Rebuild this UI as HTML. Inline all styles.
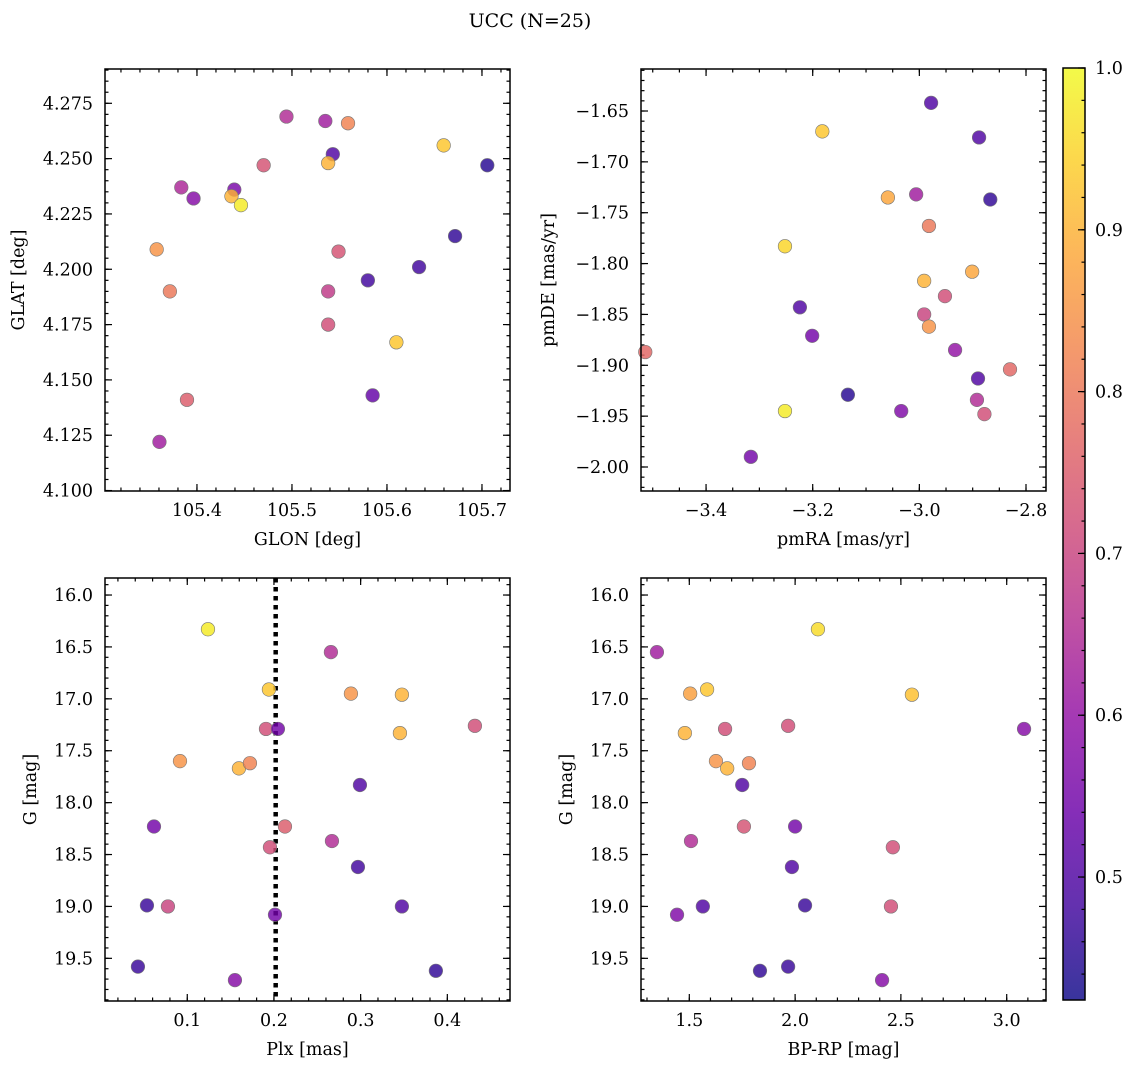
<!DOCTYPE html>
<html><head><meta charset="utf-8"><style>
html,body{margin:0;padding:0;background:#fff;}
svg{display:block;font-family:"DejaVu Serif","Liberation Serif",serif;}
</style></head><body>
<svg id="fig" width="1136" height="1068" viewBox="0 0 1136 1068" xmlns="http://www.w3.org/2000/svg">
<text x="530" y="27" font-size="19" text-anchor="middle">UCC (N=25)</text>
</svg>
<script>
// Panel data (per panel)
const glon=[105.4942,105.5351,105.5590,105.5430,105.6597,105.7056,105.4702,105.3835,105.4393,105.3964,105.4363,105.4463,105.5381,105.3576,105.6717,105.5490,105.6338,105.5799,105.3715,105.5381,105.5381,105.6099,105.3895,105.5849,105.3605];
const glat=[4.269,4.267,4.266,4.252,4.256,4.247,4.247,4.237,4.236,4.232,4.233,4.229,4.248,4.209,4.215,4.208,4.201,4.195,4.190,4.190,4.175,4.167,4.141,4.143,4.122];
const cTL=[0.65,0.62,0.82,0.50,0.93,0.45,0.73,0.64,0.56,0.58,0.90,0.98,0.90,0.85,0.46,0.73,0.48,0.48,0.80,0.68,0.72,0.93,0.75,0.53,0.62];
const pmra=[-2.978,-3.182,-2.888,-3.006,-3.059,-2.867,-2.982,-3.252,-2.901,-2.991,-2.952,-3.224,-2.991,-2.982,-3.201,-2.933,-3.514,-2.830,-2.890,-3.134,-2.892,-3.252,-3.034,-2.878,-3.316];
const pmde=[-1.642,-1.670,-1.676,-1.732,-1.735,-1.737,-1.763,-1.783,-1.808,-1.817,-1.832,-1.843,-1.850,-1.862,-1.871,-1.885,-1.887,-1.904,-1.913,-1.929,-1.934,-1.945,-1.945,-1.948,-1.990];
const cTR=[0.50,0.93,0.50,0.62,0.88,0.46,0.80,0.95,0.88,0.90,0.72,0.50,0.70,0.85,0.55,0.60,0.77,0.77,0.50,0.45,0.65,0.98,0.57,0.72,0.55];
const plx=[0.1239,0.2657,0.1942,0.2888,0.3476,0.1908,0.2046,0.4318,0.3453,0.0916,0.1596,0.1723,0.2992,0.0616,0.2127,0.2669,0.1954,0.2969,0.0535,0.0777,0.3476,0.2012,0.0431,0.3868,0.1550];
const gA=[16.33,16.55,16.91,16.95,16.96,17.29,17.29,17.26,17.33,17.60,17.67,17.62,17.83,18.23,18.23,18.37,18.43,18.62,18.99,19.00,19.00,19.08,19.58,19.62,19.71];
const cBL=[0.98,0.65,0.93,0.85,0.90,0.72,0.55,0.72,0.90,0.85,0.90,0.82,0.50,0.55,0.75,0.65,0.72,0.48,0.47,0.70,0.50,0.55,0.47,0.46,0.58];
const bprp=[1.347,2.108,1.504,1.584,2.552,1.669,1.967,3.082,1.479,1.626,1.679,1.782,1.750,1.508,1.758,2.000,2.462,1.985,1.564,2.047,1.442,2.453,1.834,1.967,2.411];
const gB=[16.55,16.33,16.95,16.91,16.96,17.29,17.26,17.29,17.33,17.60,17.67,17.62,17.83,18.37,18.23,18.23,18.43,18.62,19.00,18.99,19.08,19.00,19.62,19.58,19.71];
const cBR=[0.62,0.96,0.87,0.93,0.92,0.72,0.72,0.58,0.90,0.85,0.90,0.82,0.50,0.65,0.73,0.55,0.72,0.50,0.50,0.47,0.57,0.72,0.46,0.47,0.58];
const cbTicks=["0.5","0.6","0.7","0.8","0.9","1.0"];

const NS="http://www.w3.org/2000/svg";
const svg=document.getElementById('fig');
function mk(tag,at,parent){const e=document.createElementNS(NS,tag);for(const k in at)e.setAttribute(k,at[k]);(parent||svg).appendChild(e);return e;}
const stops=[[13,8,135],[65,4,157],[106,0,168],[143,13,164],[177,42,144],[204,71,120],[225,100,98],[242,132,75],[252,166,54],[252,206,37],[240,249,33]];
function plasma(t){t=Math.max(0,Math.min(1,t));const f=t*10,i=Math.min(9,Math.floor(f)),r=f-i;const a=stops[i],b=stops[i+1];return `rgb(${a.map((v,k)=>Math.round(v+(b[k]-v)*r)).join(',')})`;}
const CMIN=0.424,CMAX=1.0;
function cnorm(v){return (v-CMIN)/(CMAX-CMIN);}
function fmt(v,d){const s=Math.abs(v).toFixed(d);return v<0?'\u2212'+s:s;}

function panel(o){
  const g=mk('g',{});
  
  
  const sx=v=>o.x0+(v-o.xmin)/(o.xmax-o.xmin)*(o.x1-o.x0);
  const sy=v=>o.flip? o.y0+(v-o.ymin)/(o.ymax-o.ymin)*(o.y1-o.y0) : o.y1-(v-o.ymin)/(o.ymax-o.ymin)*(o.y1-o.y0);
  const eps=1e-9;
  function ticks(min,max,step){const a=[];for(let v=Math.ceil(min/step-eps)*step;v<=max+eps;v+=step)a.push(+v.toFixed(6));return a;}
  ticks(o.xmin,o.xmax,o.xminor).forEach(v=>{const X=sx(v);mk('line',{x1:X,x2:X,y1:o.y1,y2:o.y1-3.5,stroke:'#000','stroke-width':1.2},g);mk('line',{x1:X,x2:X,y1:o.y0,y2:o.y0+3.5,stroke:'#000','stroke-width':1.2},g);});
  ticks(o.ymin,o.ymax,o.yminor).forEach(v=>{const Y=sy(v);mk('line',{x1:o.x0,x2:o.x0+3.5,y1:Y,y2:Y,stroke:'#000','stroke-width':1.2},g);mk('line',{x1:o.x1,x2:o.x1-3.5,y1:Y,y2:Y,stroke:'#000','stroke-width':1.2},g);});
  ticks(o.xmin,o.xmax,o.xmajor).forEach(v=>{const X=sx(v);mk('line',{x1:X,x2:X,y1:o.y1,y2:o.y1-7,stroke:'#000','stroke-width':1.2},g);mk('line',{x1:X,x2:X,y1:o.y0,y2:o.y0+7,stroke:'#000','stroke-width':1.2},g);
    const t=mk('text',{x:X,y:o.y1+25,'font-size':17.5,'text-anchor':'middle'},g);t.textContent=fmt(v,o.xdec);
    
    });
  ticks(o.ymin,o.ymax,o.ymajor).forEach(v=>{const Y=sy(v);mk('line',{x1:o.x0,x2:o.x0+7,y1:Y,y2:Y,stroke:'#000','stroke-width':1.2},g);mk('line',{x1:o.x1,x2:o.x1-7,y1:Y,y2:Y,stroke:'#000','stroke-width':1.2},g);
    const t=mk('text',{x:o.x0-12,y:Y+6,'font-size':17.5,'text-anchor':'end'},g);t.textContent=fmt(v,o.ydec);
    
    });
  if(o.vline!==undefined){const l=mk('line',{x1:sx(o.vline),x2:sx(o.vline),y1:o.y0,y2:o.y1,stroke:'#000','stroke-width':4.5,'stroke-dasharray':'4.5,4.5'},g);
    
    }
  o.xs.forEach((v,i)=>{const c=mk('circle',{cx:sx(v),cy:sy(o.ys[i]),r:6.8,fill:plasma(cnorm(o.cs[i])),'fill-opacity':0.82,stroke:'#777','stroke-width':0.6},g);
    
    });
  const fr=mk('rect',{x:o.x0,y:o.y0,width:o.x1-o.x0,height:o.y1-o.y0,fill:'none',stroke:'#000','stroke-width':1.5},g);
  
  
  const xl=mk('text',{x:(o.x0+o.x1)/2,y:o.y1+54,'font-size':17.5,'text-anchor':'middle'},g);xl.textContent=o.xlabel;
  
  
  const yx=o.x0-o.ylabOff, yy=(o.y0+o.y1)/2;
  const yl=mk('text',{x:yx,y:yy,'font-size':17.5,'text-anchor':'middle',transform:`rotate(-90 ${yx} ${yy})`},g);yl.textContent=o.ylabel;
  
  
}

panel({name:'glon-glat-panel',x0:105,x1:510,y0:69,y1:491,xmin:105.3032,xmax:105.7295,ymin:4.0998,ymax:4.2905,xmajor:0.1,xminor:0.02,ymajor:0.025,yminor:0.005,xdec:1,ydec:3,xs:glon,ys:glat,cs:cTL,xlabel:'GLON [deg]',ylabel:'GLAT [deg]',ylabOff:81});
panel({name:'pm-panel',x0:641,x1:1046,y0:69,y1:491,xmin:-3.522,xmax:-2.7625,ymin:-2.0236,ymax:-1.6087,xmajor:0.2,xminor:0.05,ymajor:0.05,yminor:0.01,xdec:1,ydec:2,xs:pmra,ys:pmde,cs:cTR,xlabel:'pmRA [mas/yr]',ylabel:'pmDE [mas/yr]',ylabOff:87});
panel({name:'plx-g-panel',x0:105,x1:510,y0:578,y1:1001,xmin:0.0051,xmax:0.4723,ymin:15.836,ymax:19.911,flip:true,xmajor:0.1,xminor:0.02,ymajor:0.5,yminor:0.1,xdec:1,ydec:1,xs:plx,ys:gA,cs:cBL,xlabel:'Plx [mas]',ylabel:'G [mag]',ylabOff:69,vline:0.202});
panel({name:'cmd-panel',x0:641,x1:1046,y0:578,y1:1001,xmin:1.2717,xmax:3.1857,ymin:15.836,ymax:19.911,flip:true,xmajor:0.5,xminor:0.1,ymajor:0.5,yminor:0.1,xdec:1,ydec:1,xs:bprp,ys:gB,cs:cBR,xlabel:'BP-RP [mag]',ylabel:'G [mag]',ylabOff:69});

// colorbar
const cb=mk('g',{});


const defs=mk('defs',{},cb);
const lg=mk('linearGradient',{id:'cbg',x1:0,y1:1,x2:0,y2:0},defs);
for(let i=0;i<=20;i++){const v=CMIN+(CMAX-CMIN)*i/20;mk('stop',{offset:i/20,'stop-color':plasma(cnorm(v)),'stop-opacity':0.82},lg);}
const CB={x0:1063,x1:1085,y0:68,y1:1000};
const cby=v=>CB.y1-(v-CMIN)/(CMAX-CMIN)*(CB.y1-CB.y0);
mk('rect',{x:CB.x0,y:CB.y0,width:CB.x1-CB.x0,height:CB.y1-CB.y0,fill:'url(#cbg)'},cb);
for(let v=0.44;v<=1.0001;v+=0.02){const Y=cby(v);mk('line',{x1:CB.x1,x2:CB.x1-3.5,y1:Y,y2:Y,stroke:'#000','stroke-width':1.2},cb);}
cbTicks.forEach(s=>{const Y=cby(parseFloat(s));mk('line',{x1:CB.x1,x2:CB.x1-7,y1:Y,y2:Y,stroke:'#000','stroke-width':1.2},cb);
  const tx=mk('text',{x:CB.x1+10,y:Y+6,'font-size':17.5},cb);tx.textContent=s;
  
  });
mk('rect',{x:CB.x0,y:CB.y0,width:CB.x1-CB.x0,height:CB.y1-CB.y0,fill:'none',stroke:'#000','stroke-width':1.5},cb);
</script>
</body></html>
